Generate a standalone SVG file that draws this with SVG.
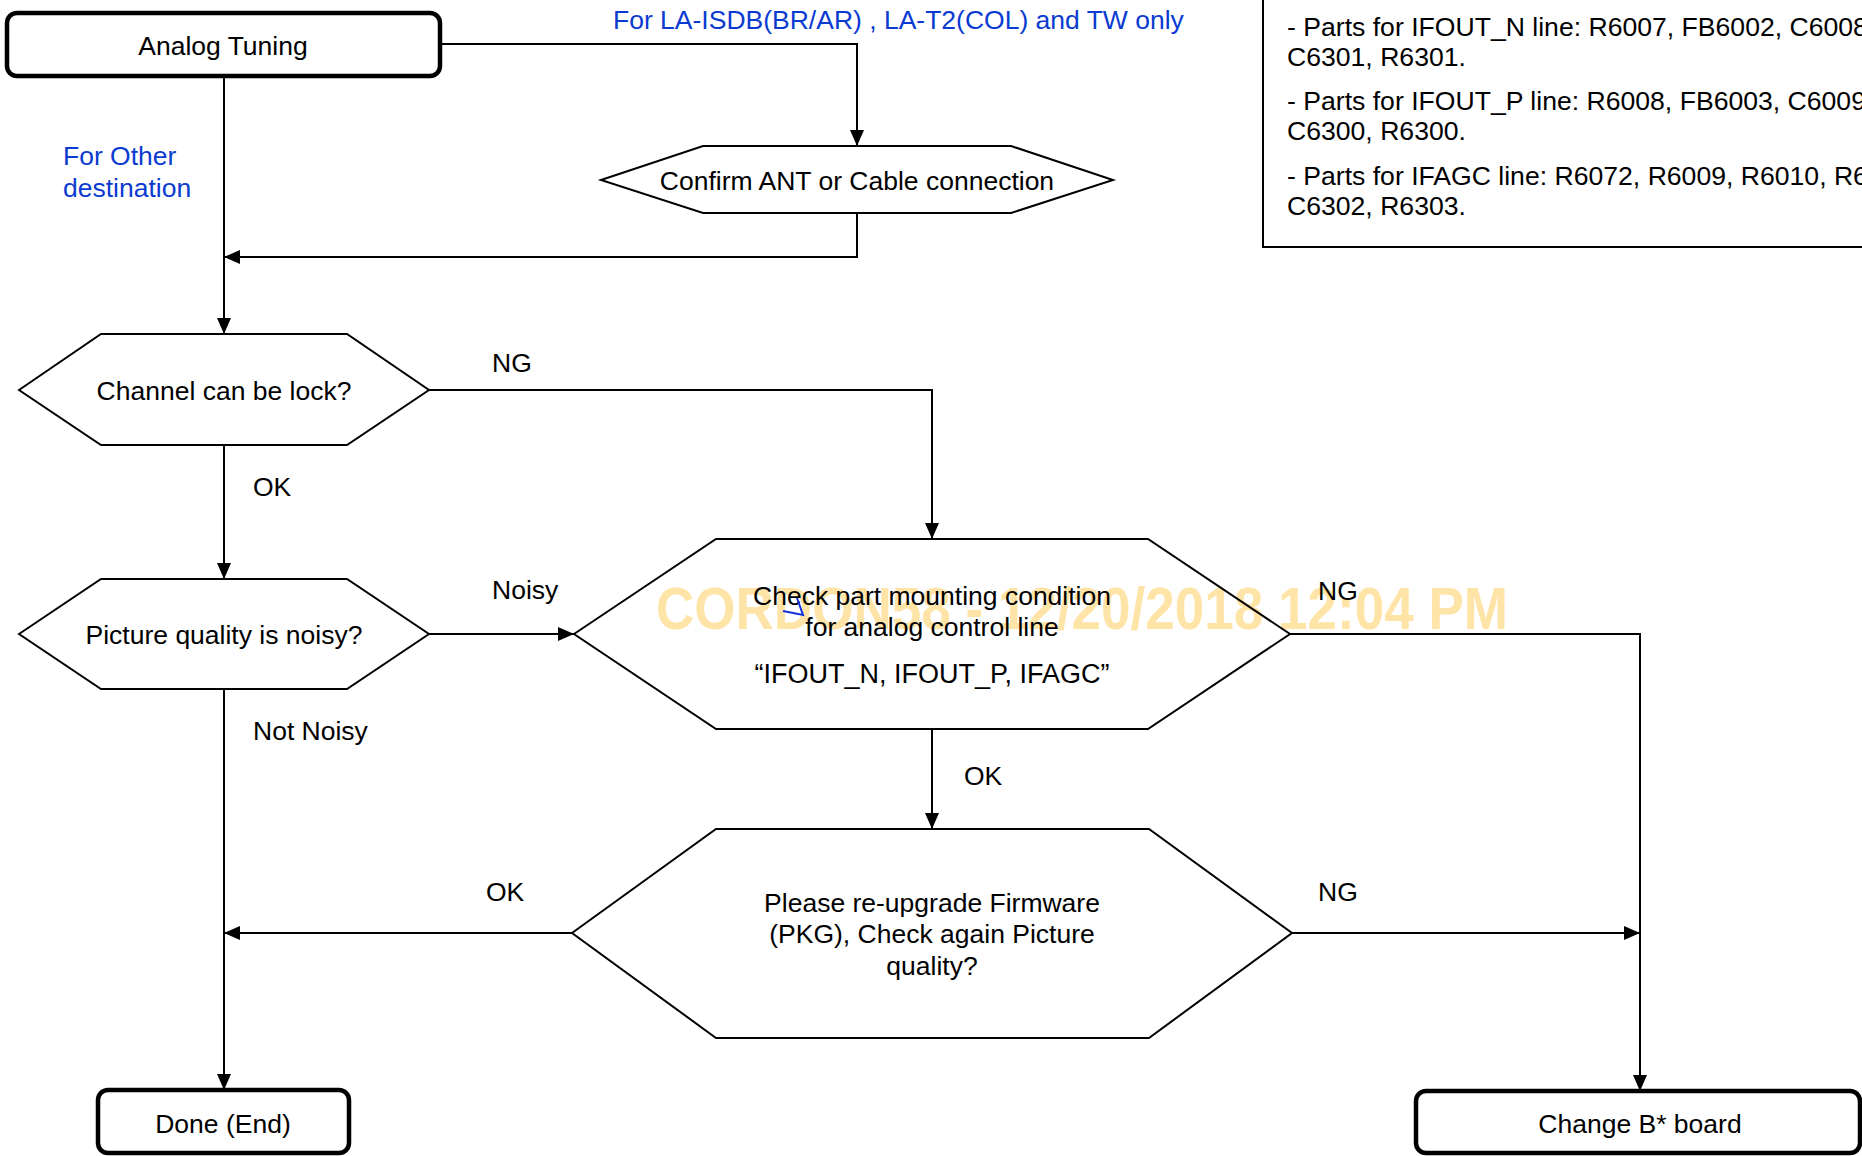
<svg xmlns="http://www.w3.org/2000/svg" width="1862" height="1156" viewBox="0 0 1862 1156">
<style>
text{font-family:"Liberation Sans",Arial,sans-serif;font-size:26.5px;fill:#000}
.c{text-anchor:middle}
.blue{fill:#0a3bd1}
.box{fill:none;stroke:#000;stroke-width:4.5}
.hex{fill:none;stroke:#000;stroke-width:2}
.con{fill:none;stroke:#000;stroke-width:2}
.wm{font-weight:bold;font-size:60px;fill:#ffe4a8}
.note{font-size:26.6px}
</style>
<defs>
<marker id="ah" markerUnits="userSpaceOnUse" markerWidth="16" markerHeight="14" refX="16" refY="7" orient="auto">
<path d="M0,0 L16,7 L0,14 z" fill="#000"/>
</marker>
</defs>
<rect width="1862" height="1156" fill="#fff"/>
<text class="wm" x="656" y="629" textLength="852" lengthAdjust="spacingAndGlyphs">CORDON58 - 12/20/2018 12:04 PM</text>

<g id="connectors">
<path class="con" d="M440,44 H857 V146" marker-end="url(#ah)"/>
<path class="con" d="M857,213 V257 H224" marker-end="url(#ah)"/>
<path class="con" d="M224,77 V334" marker-end="url(#ah)"/>
<path class="con" d="M429,390 H932 V539" marker-end="url(#ah)"/>
<path class="con" d="M224,445 V579" marker-end="url(#ah)"/>
<path class="con" d="M429,634 H574" marker-end="url(#ah)"/>
<path class="con" d="M224,689 V1090" marker-end="url(#ah)"/>
<path class="con" d="M932,729 V829" marker-end="url(#ah)"/>
<path class="con" d="M1290,634 H1640 V1091" marker-end="url(#ah)"/>
<path class="con" d="M572,933 H224" marker-end="url(#ah)"/>
<path class="con" d="M1292,933 H1640" marker-end="url(#ah)"/>
<text class="blue" x="613" y="29">For LA-ISDB(BR/AR) , LA-T2(COL) and TW only</text>
<text class="blue" x="63" y="165">For Other</text>
<text class="blue" x="63" y="197">destination</text>
<text x="492" y="372">NG</text>
<text x="253" y="496">OK</text>
<text x="492" y="599">Noisy</text>
<text x="253" y="740">Not Noisy</text>
<text x="1318" y="600">NG</text>
<text x="964" y="785">OK</text>
<text x="486" y="901">OK</text>
<text x="1318" y="901">NG</text>
</g>

<g id="analog-tuning">
<rect class="box" x="7" y="13" width="433" height="63" rx="10"/>
<text class="c" x="223" y="55">Analog Tuning</text>
</g>

<g id="confirm-ant">
<polygon class="hex" points="601,180 703,146 1011,146 1113,180 1011,213 703,213"/>
<text class="c" x="857" y="190">Confirm ANT or Cable connection</text>
</g>

<g id="channel-lock">
<polygon class="hex" points="19,390 101,334 347,334 429,390 347,445 101,445"/>
<text class="c" x="224" y="400">Channel can be lock?</text>
</g>

<g id="picture-noisy">
<polygon class="hex" points="19,634 101,579 347,579 429,634 347,689 101,689"/>
<text class="c" x="224" y="644">Picture quality is noisy?</text>
</g>

<g id="check-mounting">
<polygon class="hex" points="574,634 716,539 1148,539 1290,634 1148,729 716,729"/>
<text class="c" x="932" y="605">Check part mounting condition</text>
<text class="c" x="932" y="636">for analog control line</text>
<text class="c" x="932" y="683" style="font-size:27px">“IFOUT_N, IFOUT_P, IFAGC”</text>
<polyline points="797,598 803,615 783,611" fill="none" stroke="#1030e0" stroke-width="2"/>
</g>

<g id="firmware">
<polygon class="hex" points="572,933 716,829 1149,829 1292,933 1149,1038 716,1038"/>
<text class="c" x="932" y="912">Please re-upgrade Firmware</text>
<text class="c" x="932" y="943">(PKG), Check again Picture</text>
<text class="c" x="932" y="975">quality?</text>
</g>

<g id="done">
<rect class="box" x="98" y="1090" width="251" height="63" rx="10"/>
<text class="c" x="223" y="1133">Done (End)</text>
</g>

<g id="change-board">
<rect class="box" x="1416" y="1091" width="444" height="62" rx="10"/>
<text class="c" x="1640" y="1133">Change B* board</text>
</g>

<g id="parts-note">
<rect x="1263" y="-10" width="700" height="257" fill="none" stroke="#000" stroke-width="2"/>
<text class="note" x="1287" y="36">- Parts for IFOUT_N line: R6007, FB6002, C6008,</text>
<text class="note" x="1287" y="66">C6301, R6301.</text>
<text class="note" x="1287" y="110">- Parts for IFOUT_P line: R6008, FB6003, C6009,</text>
<text class="note" x="1287" y="140">C6300, R6300.</text>
<text class="note" x="1287" y="185">- Parts for IFAGC line: R6072, R6009, R6010, R6011,</text>
<text class="note" x="1287" y="215">C6302, R6303.</text>
</g>
</svg>
